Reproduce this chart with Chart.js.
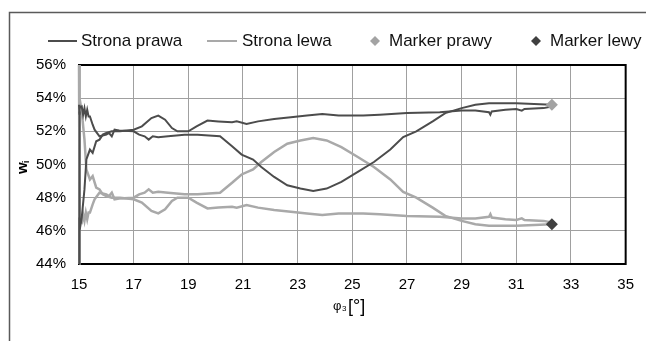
<!DOCTYPE html>
<html>
<head>
<meta charset="utf-8">
<script src="https://cdn.jsdelivr.net/npm/chart.js@4"></script>
<style>
  html, body { margin: 0; padding: 0; background: #fff; }
  #wrap { width: 646px; height: 341px; }
</style>
</head>
<body>
<div id="wrap"><canvas id="c" width="646" height="341"></canvas></div>
<script>
// Angle phi3 [deg] for the two passes
const phiA = [15.00, 15.01, 15.03, 15.10, 15.20, 15.27, 15.40, 15.50, 15.63, 15.75, 15.87, 16.00, 16.20, 16.50,
  17.00, 17.30, 17.65, 17.90, 18.15, 18.40, 18.60, 19.00, 19.30, 19.70, 20.10, 20.60, 20.77, 21.13, 21.55,
  22.14, 22.75, 23.34, 23.90, 24.50, 25.40, 26.00, 27.00, 28.20, 29.00, 29.50, 30.00, 30.05, 30.10, 30.60,
  31.00, 31.20, 31.30, 32.00, 32.30];
const phiB = [15.00, 15.01, 15.03, 15.10, 15.15, 15.20, 15.25, 15.30, 15.35, 15.40, 15.50, 15.57, 15.75, 16.00,
  16.10, 16.20, 16.30, 16.47, 17.00, 17.20, 17.40, 17.55, 17.70, 17.90, 18.26, 18.86, 19.34, 19.75, 20.16,
  20.60, 20.95, 21.37, 21.67, 22.14, 22.62, 23.10, 23.57, 24.06, 24.60, 25.20, 25.79, 26.39, 26.86, 27.34,
  27.94, 28.40, 29.00, 29.50, 30.00, 31.00, 32.30];

// w_i [%] – right side (dark) and left side (light)
const prawaA = [44.0, 53.2, 46.0, 46.8, 48.5, 50.3, 50.9, 50.7, 51.4, 51.5, 51.8, 51.9, 52.0, 52.0,
  52.1, 52.3, 52.8, 52.95, 52.7, 52.2, 52.0, 52.0, 52.3, 52.65, 52.6, 52.55, 52.6, 52.45, 52.6,
  52.75, 52.85, 52.95, 53.05, 52.95, 52.95, 53.0, 53.1, 53.15, 53.25, 53.25, 53.15, 53.0, 53.2, 53.3,
  53.35, 53.25, 53.35, 53.4, 53.5];
const prawaB = [53.6, 53.0, 53.4, 53.5, 53.0, 53.4, 52.9, 53.3, 52.9, 52.9, 52.4, 52.1, 51.7, 51.8,
  51.9, 51.7, 52.1, 52.05, 52.0, 51.8, 51.7, 51.5, 51.7, 51.65, 51.7, 51.8, 51.8, 51.75, 51.7,
  51.1, 50.6, 50.3, 49.85, 49.25, 48.75, 48.55, 48.4, 48.55, 48.95, 49.55, 50.15, 50.9, 51.65, 52.0,
  52.6, 53.1, 53.4, 53.6, 53.7, 53.7, 53.6];
const lewaA = [56.0, 46.8, 54.0, 53.2, 51.5, 49.7, 49.1, 49.3, 48.6, 48.5, 48.2, 48.1, 48.0, 48.0,
  47.9, 47.7, 47.2, 47.05, 47.3, 47.8, 48.0, 48.0, 47.7, 47.35, 47.4, 47.45, 47.4, 47.55, 47.4,
  47.25, 47.15, 47.05, 46.95, 47.05, 47.05, 47.0, 46.9, 46.85, 46.75, 46.75, 46.85, 47.0, 46.8, 46.7,
  46.65, 46.75, 46.65, 46.6, 46.5];
const lewaB = [44.0, 56.0, 46.6, 46.5, 47.0, 46.6, 47.1, 46.7, 47.1, 47.1, 47.6, 47.9, 48.3, 48.2,
  48.1, 48.3, 47.9, 47.95, 48.0, 48.2, 48.3, 48.5, 48.3, 48.35, 48.3, 48.2, 48.2, 48.25, 48.3,
  48.9, 49.4, 49.7, 50.15, 50.75, 51.25, 51.45, 51.6, 51.45, 51.05, 50.45, 49.85, 49.1, 48.35, 48.0,
  47.4, 46.9, 46.6, 46.4, 46.3, 46.3, 46.4];

// End markers
const markerPhi = [32.3];
const markerPrawy = [53.6];
const markerLewy = [46.4];

const xTicks = [15, 17, 19, 21, 23, 25, 27, 29, 31, 33, 35];
const yTicks = [44, 46, 48, 50, 52, 54, 56];

const DARK = '#4c4c4c';
const LIGHT = '#a9a9a9';
const FONT = "'Liberation Sans', Arial, sans-serif";

const pts = (xs, ys) => xs.map((x, i) => ({ x: x, y: ys[i] }));

// Frame, plot border, legend and axis titles
const decor = {
  id: 'decor',
  beforeDatasetsDraw(chart) {
    const { ctx, chartArea: a } = chart;
    ctx.save();
    ctx.strokeStyle = '#000';
    ctx.lineWidth = 2;
    ctx.strokeRect(a.left, a.top, a.right - a.left, a.bottom - a.top);
    ctx.restore();
  },
  afterDraw(chart) {
    const ctx = chart.ctx;
    ctx.save();
    // outer frame
    ctx.strokeStyle = '#5a5a5a';
    ctx.lineWidth = 1.5;
    ctx.beginPath();
    ctx.moveTo(9.5, 341);
    ctx.lineTo(9.5, 12.5);
    ctx.lineTo(646, 12.5);
    ctx.stroke();

    // legend
    const ly = 41;
    ctx.font = '17px ' + FONT;
    ctx.textBaseline = 'middle';
    ctx.fillStyle = '#111';
    ctx.lineWidth = 2;
    ctx.strokeStyle = DARK;
    ctx.beginPath(); ctx.moveTo(48, ly); ctx.lineTo(77, ly); ctx.stroke();
    ctx.fillText('Strona prawa', 81, ly);
    ctx.strokeStyle = LIGHT;
    ctx.beginPath(); ctx.moveTo(207, ly); ctx.lineTo(237, ly); ctx.stroke();
    ctx.fillText('Strona lewa', 242, ly);
    const diamond = (cx, cy, r, col) => {
      ctx.fillStyle = col;
      ctx.beginPath();
      ctx.moveTo(cx - r, cy); ctx.lineTo(cx, cy - r); ctx.lineTo(cx + r, cy); ctx.lineTo(cx, cy + r);
      ctx.closePath(); ctx.fill();
    };
    diamond(375, ly, 5, '#a3a3a3');
    ctx.fillStyle = '#111';
    ctx.fillText('Marker prawy', 389, ly);
    diamond(536, ly, 5, '#404040');
    ctx.fillStyle = '#111';
    ctx.fillText('Marker lewy', 550, ly);

    // y title: w with subscript i
    ctx.save();
    ctx.translate(27, 168);
    ctx.rotate(-Math.PI / 2);
    ctx.textBaseline = 'alphabetic';
    ctx.fillStyle = '#000';
    ctx.font = 'bold 15px ' + FONT;
    ctx.fillText('w', -6, 0);
    ctx.font = 'bold 9px ' + FONT;
    ctx.fillText('i', 5, 2);
    ctx.restore();

    // x title: phi with subscript 3, [°]
    ctx.fillStyle = '#000';
    ctx.textBaseline = 'alphabetic';
    ctx.font = '13px ' + FONT;
    ctx.fillText('φ', 333, 310);
    ctx.font = '8px ' + FONT;
    ctx.fillText('3', 342, 311);
    ctx.font = '18px ' + FONT;
    ctx.fillText('[°]', 348, 312);
    ctx.restore();
  }
};

Chart.defaults.font.family = FONT;
Chart.defaults.font.size = 15;
Chart.defaults.color = '#000';

const lineClip = { left: 4, top: 1, right: 1, bottom: 1 };

new Chart(document.getElementById('c'), {
  type: 'line',
  data: {
    datasets: [
      { label: 'Marker prawy', data: pts(markerPhi, markerPrawy), showLine: false, order: 0,
        pointStyle: 'rectRot', pointRadius: 6, backgroundColor: '#a3a3a3', borderColor: '#a3a3a3', borderWidth: 0 },
      { label: 'Marker lewy', data: pts(markerPhi, markerLewy), showLine: false, order: 0,
        pointStyle: 'rectRot', pointRadius: 6, backgroundColor: '#404040', borderColor: '#404040', borderWidth: 0 },
      { label: 'Strona prawa', data: pts(phiA, prawaA), borderColor: DARK, borderWidth: 2, pointRadius: 0, order: 1, clip: lineClip },
      { label: 'Strona prawa', data: pts(phiB, prawaB), borderColor: DARK, borderWidth: 2, pointRadius: 0, order: 1, clip: lineClip },
      { label: 'Strona lewa', data: pts(phiA, lewaA), borderColor: LIGHT, borderWidth: 2.5, pointRadius: 0, order: 2, clip: lineClip },
      { label: 'Strona lewa', data: pts(phiB, lewaB), borderColor: LIGHT, borderWidth: 2.5, pointRadius: 0, order: 2, clip: lineClip }
    ]
  },
  options: {
    responsive: false,
    animation: false,
    layout: { padding: { left: 0, right: 8, top: 65, bottom: 0 } },
    plugins: { legend: { display: false }, tooltip: { enabled: false } },
    scales: {
      x: {
        type: 'linear', min: 15, max: 35,
        afterFit(s) { s.height = 77; },
        afterBuildTicks(s) { s.ticks = xTicks.map(v => ({ value: v })); },
        ticks: { padding: 12, maxRotation: 0, autoSkip: false },
        grid: { color: '#a0a0a0', lineWidth: 1, drawTicks: false },
        border: { display: false }
      },
      y: {
        type: 'linear', min: 44, max: 56,
        afterFit(s) { s.width = 79; },
        afterBuildTicks(s) { s.ticks = yTicks.map(v => ({ value: v })); },
        ticks: { padding: 13, callback: v => v + '%' },
        grid: { color: '#a0a0a0', lineWidth: 1, drawTicks: false },
        border: { display: false }
      }
    }
  },
  plugins: [decor]
});
</script>
</body>
</html>
